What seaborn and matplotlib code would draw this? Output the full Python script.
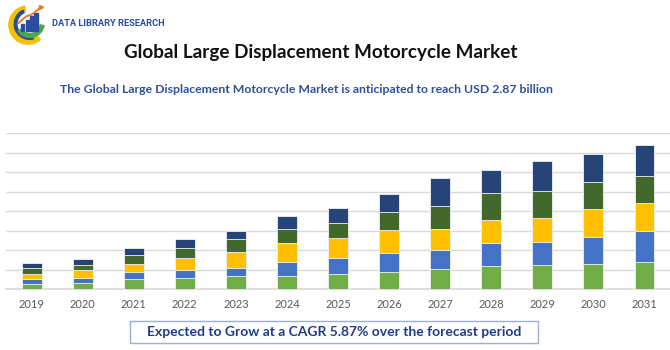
import numpy as np
import pandas as pd
import matplotlib.pyplot as plt
import matplotlib.patches as mpatches
import seaborn as sns

# Data (arbitrary units per gridline)
years = ['2019', '2020', '2021', '2022', '2023', '2024', '2025',
         '2026', '2027', '2028', '2029', '2030', '2031']
seg1 = [0.26, 0.31, 0.51, 0.58, 0.67, 0.68, 0.80, 0.89, 1.01, 1.18, 1.22, 1.30, 1.40]
seg2 = [0.27, 0.27, 0.36, 0.39, 0.42, 0.70, 0.81, 0.96, 0.99, 1.18, 1.19, 1.37, 1.59]
seg3 = [0.24, 0.39, 0.41, 0.62, 0.81, 0.98, 0.99, 1.21, 1.11, 1.21, 1.25, 1.42, 1.42]
seg4 = [0.29, 0.29, 0.48, 0.53, 0.66, 0.72, 0.80, 0.91, 1.18, 1.39, 1.37, 1.41, 1.38]
seg5 = [0.29, 0.29, 0.34, 0.44, 0.43, 0.66, 0.79, 0.94, 1.42, 1.18, 1.57, 1.42, 1.59]
seg_colors = ['#70AD47', '#4472C4', '#FFC000', '#43682B', '#264478']

sns.set_theme(style='white')
plt.rcParams['font.family'] = ['Lato', 'DejaVu Sans']

fig = plt.figure(figsize=(6.7, 3.5), dpi=100)
ax = fig.add_axes([0.009, 0.174, 0.991, 0.445])

# stacked bars: draw cumulative totals from the top segment down
segs = np.array([seg1, seg2, seg3, seg4, seg5])
cum = np.cumsum(segs, axis=0)
for i in range(len(segs) - 1, -1, -1):
    df = pd.DataFrame({'year': years, 'value': cum[i]})
    sns.barplot(data=df, x='year', y='value', color=seg_colors[i], saturation=1,
                width=0.39, edgecolor='#F2F2F2', linewidth=0.6, ax=ax, zorder=3)

ax.set_xlim(-0.5, 12.5)
ax.set_ylim(0, 8)
ax.set_yticks(range(0, 9))
ax.set_yticklabels([])
ax.tick_params(axis='y', length=0)
ax.tick_params(axis='x', length=0, labelsize=8, labelcolor='#595959', pad=7)
ax.grid(axis='y', color='#D9D9D9', linewidth=1)
ax.set_axisbelow(True)
ax.set_xlabel('')
ax.set_ylabel('')
for s in ['top', 'right', 'left']:
    ax.spines[s].set_visible(False)
ax.spines['bottom'].set_color('#D9D9D9')
ax.spines['bottom'].set_linewidth(1.2)

# titles
fig.text(0.479, 0.85, 'Global Large Displacement Motorcycle Market', ha='center', va='center',
         fontsize=13.6, fontweight='bold', color='#111111')
fig.text(0.457, 0.743, 'The Global Large Displacement Motorcycle Market is anticipated to reach USD 2.87 billion',
         ha='center', va='center', fontsize=8.8, fontweight='bold', color='#2F4F99')

# bottom box
box = mpatches.Rectangle((130 / 670, 1 - 343 / 350), 408 / 670, 22 / 350, transform=fig.transFigure,
                         facecolor='white', edgecolor='#9AB0CC', linewidth=1)
fig.patches.append(box)
fig.text(334 / 670, 1 - 332.5 / 350, 'Expected to Grow at a CAGR 5.87% over the forecast period',
         ha='center', va='center', fontsize=10.0, fontweight='bold', color='#1F3C88')

# logo
lax = fig.add_axes([6 / 670, 1 - 46 / 350, 44 / 670, 42 / 350])
lax.set_xlim(-1.1, 1.1)
lax.set_ylim(-1.1, 1.1)
lax.set_aspect('equal')
lax.axis('off')
lax.add_patch(mpatches.Wedge((0, 0), 1.0, 100, 310, width=0.25, color='#F2C200'))
lax.add_patch(mpatches.Wedge((0.08, 0.05), 0.8, 115, 285, width=0.14, color='#2B4DA0'))
lax.add_patch(mpatches.Wedge((0.1, 0.1), 0.75, 215, 350, width=0.2, color='#4CA64C'))
for bx, bh in zip([-0.35, -0.12, 0.11, 0.34], [0.35, 0.55, 0.75, 0.95]):
    lax.add_patch(mpatches.Rectangle((bx, -0.3), 0.16, bh, color='#2B4DA0'))
lax.plot([-0.5, -0.1, 0.2, 0.7], [0.1, 0.45, 0.55, 0.95], color='#E8792B', linewidth=1.4)
lax.plot([0.7], [0.95], marker='>', color='#E8792B', markersize=3)
fig.text(52 / 670, 1 - 23 / 350, 'DATA LIBRARY RESEARCH', ha='left', va='center',
         fontsize=6.7, fontweight='bold', color='#2B4DA0', family=['Roboto', 'DejaVu Sans'])

fig.savefig('out.png', dpi=100)
